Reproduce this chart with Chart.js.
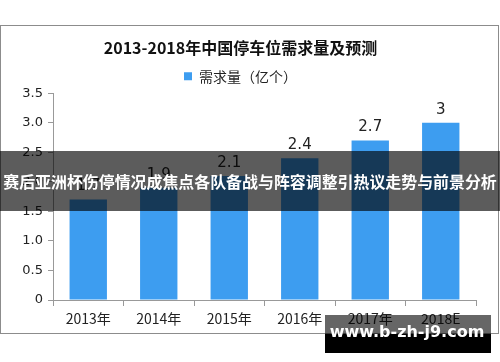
<!DOCTYPE html>
<html>
<head>
<meta charset="utf-8">
<script src="https://cdn.jsdelivr.net/npm/chart.js@4/dist/chart.umd.min.js"></script>
<style>
    html, body { margin: 0; padding: 0; background: #fff; }
    #wrap { width: 500px; height: 362px; }
</style>
</head>
<body>
<div id="wrap"><canvas id="chartBar" width="500" height="362"></canvas></div>
<script>
const years = ['2013年', '2014年', '2015年', '2016年', '2017年', '2018E'];
const demand = [1.7, 1.9, 2.1, 2.4, 2.7, 3];
const yTicks = [0, 0.5, 1, 1.5, 2, 2.5, 3, 3.5];

const chartTitle = '2013-2018年中国停车位需求量及预测';
const seriesName = '需求量（亿个）';
const bannerText = '赛后亚洲杯伤停情况成焦点各队备战与阵容调整引热议走势与前景分析';
const siteText = 'www.b-zh-j9.com';

const cjk = '"Noto Sans CJK SC", "DejaVu Sans", sans-serif';

// frame, value labels, banner and site box
const extras = {
    id: 'extras',
    beforeDraw(chart) {
        const ctx = chart.ctx;
        ctx.save();
        ctx.strokeStyle = '#8c8c8c';
        ctx.lineWidth = 1;
        ctx.strokeRect(0.5, 25.5, 498, 308);
        ctx.restore();
    },
    afterDraw(chart) {
        const ctx = chart.ctx;
        const meta = chart.getDatasetMeta(0);
        ctx.save();
        ctx.font = '15px "DejaVu Sans", sans-serif';
        ctx.fillStyle = '#222';
        ctx.textAlign = 'center';
        ctx.textBaseline = 'middle';
        meta.data.forEach((bar, i) => {
            ctx.fillText(String(demand[i]), bar.x, bar.y - 13);
        });

        // dark banner
        ctx.fillStyle = 'rgba(0,0,0,0.64)';
        ctx.fillRect(0, 151, 500, 60);
        let size = 20;
        ctx.font = 'bold ' + size + 'px ' + cjk;
        const w = ctx.measureText(bannerText).width;
        size = size * 494 / w;
        ctx.font = 'bold ' + size + 'px ' + cjk;
        ctx.fillStyle = '#fff';
        ctx.fillText(bannerText, 250, 182);

        // site box
        ctx.fillStyle = 'rgba(0,0,0,0.6)';
        ctx.fillRect(325, 315, 166, 19);
        ctx.fillStyle = '#000';
        ctx.fillRect(325, 334, 166, 19);
        ctx.font = 'bold 16px "DejaVu Sans", sans-serif';
        ctx.fillStyle = '#fff';
        ctx.fillText(siteText, 407, 333);
        ctx.restore();
    }
};

const configChartBar = {
    type: 'bar',
    data: {
        labels: years,
        datasets: [{
            label: seriesName,
            data: demand,
            backgroundColor: '#3d9df0',
            borderWidth: 0,
            categoryPercentage: 1,
            barPercentage: 0.53
        }]
    },
    options: {
        responsive: false,
        animation: false,
        layout: {
            padding: { top: 0, left: 5, right: 24, bottom: 0 }
        },
        plugins: {
            title: {
                display: true,
                text: chartTitle,
                color: '#111',
                font: { family: cjk, size: 16, weight: 'bold' },
                padding: { top: 38, bottom: 4 }
            },
            legend: {
                display: true,
                position: 'top',
                labels: {
                    boxWidth: 8,
                    boxHeight: 8,
                    color: '#222',
                    padding: 8,
                    font: { family: cjk, size: 14 }
                }
            },
            tooltip: { enabled: false }
        },
        scales: {
            x: {
                grid: {
                    offset: true,
                    drawOnChartArea: false,
                    drawTicks: true,
                    tickLength: 6,
                    color: '#999'
                },
                border: { color: '#999' },
                ticks: {
                    color: '#222',
                    padding: 4,
                    font: { family: cjk, size: 14 }
                },
                afterFit(scale) { scale.height = 62; }
            },
            y: {
                min: 0,
                max: 3.5,
                afterBuildTicks(scale) {
                    scale.ticks = yTicks.map(v => ({ value: v }));
                },
                grid: {
                    drawOnChartArea: false,
                    drawTicks: true,
                    tickLength: 5,
                    color: '#999'
                },
                border: { color: '#999' },
                ticks: {
                    color: '#222',
                    padding: 5,
                    font: { family: '"DejaVu Sans", sans-serif', size: 13 }
                },
                afterFit(scale) { scale.width = 48; }
            }
        }
    },
    plugins: [extras]
};

let chartBar = document.getElementById('chartBar');
let oChartBar = new Chart(chartBar, configChartBar);
</script>
</body>
</html>
